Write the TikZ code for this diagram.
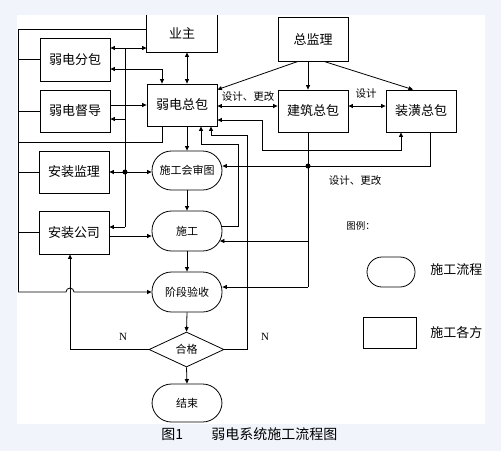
\documentclass[tikz,border=0pt]{standalone}
\usepackage{fontspec}
\setmainfont{Noto Sans CJK SC}
\newfontfamily\latinserif{Liberation Serif}
\usetikzlibrary{arrows.meta,shapes.geometric,calc}
\definecolor{bgblue}{RGB}{241,245,251}
\begin{document}
\begin{tikzpicture}[x=1pt,y=-1pt,
  line width=0.8pt,
  >={Triangle[length=4.5pt,width=4pt]},
  party/.style={draw,rectangle,minimum width=70pt,minimum height=42pt,inner sep=0pt,font=\fontsize{13}{15}\selectfont},
  flow/.style={draw,rectangle,rounded corners=19.5pt,minimum width=70pt,minimum height=40pt,inner sep=0pt,font=\fontsize{11}{13}\selectfont},
  lbl/.style={font=\fontsize{10.5}{12}\selectfont,inner sep=0pt},
  legtxt/.style={font=\fontsize{13}{15}\selectfont,inner sep=0pt,anchor=west},
  dotmark/.style={fill=black}]
\fill[bgblue] (0,0) rectangle (501,451);
\fill[white] (17,15) rectangle (485,424);
\useasboundingbox (0,0) rectangle (501,451);

% parties
\node[minimum width=70pt,minimum height=37pt,inner sep=0pt,font=\fontsize{13}{15}\selectfont] (yz) at (182,33.5) {业主};
\draw (yz.north west) -- (yz.south west) -- (yz.south east) -- (yz.north east);
\node[party,minimum height=43pt] (fb) at (75,59.5) {弱电分包};
\node[party] (dd) at (75,111) {弱电督导};
\node[party] (zb) at (182,105) {弱电总包};
\node[party,minimum height=44pt] (zjl) at (313,39) {总监理};
\node[party] (jz) at (313,111) {建筑总包};
\node[party] (zh) at (421,111) {装潢总包};
\node[party] (azjl) at (74,172) {安装监理};
\node[party,minimum height=43pt] (azgs) at (74,232.5) {安装公司};

% flow
\node[flow,minimum height=39pt] (shts) at (187,170.5) {施工会审图};
\node[flow] (sg) at (187,231) {施工};
\node[flow] (jdys) at (187,292) {阶段验收};
\node[draw,diamond,minimum width=75pt,minimum height=35pt,inner sep=0pt,font=\fontsize{11}{13}\selectfont] (hg) at (186.5,349.5) {合格};
\node[flow,minimum height=38pt] (js) at (187,403) {结束};

% legend
\node[lbl,font=\fontsize{9.5}{11}\selectfont,anchor=west] (lgt) at (346,226) {图例：};
\node[draw,rectangle,rounded corners=15pt,minimum width=48pt,minimum height=30pt] (lg1) at (391,272) {};
\node[draw,rectangle,minimum width=53pt,minimum height=31pt] (lg2) at (389.5,332.5) {};
\node[legtxt] (lt1) at (430,270) {施工流程};
\node[legtxt] (lt2) at (430,333) {施工各方};

% caption
\node[font=\fontsize{14}{16}\selectfont,anchor=west,inner sep=0pt] (cap1) at (161,434) {图1};
\node[font=\fontsize{14}{16}\selectfont,anchor=west,inner sep=0pt] (cap2) at (211,434) {弱电系统施工流程图};

% labels
\node[lbl] (l1) at (248,97) {设计、更改};
\node[lbl] (l2) at (366,94) {设计};
\node[lbl] (l3) at (355,181) {设计、更改};
\node[font=\latinserif\fontsize{11}{12}\selectfont,inner sep=0pt] (nl) at (123,337) {N};
\node[font=\latinserif\fontsize{11}{12}\selectfont,inner sep=0pt] (nr) at (265,337) {N};

% left bus
\coordinate (Ltop) at (18,29);
\coordinate (Lbot) at (18,292);
\coordinate (hopx) at (70,292);
\draw (Ltop -| yz.west) -- (Ltop) -- (Lbot);
\draw[->] (Lbot) -- ($(hopx)+(-4,0)$) arc[start angle=180,end angle=0,radius=4pt] -- (Lbot -| jdys.west);
\draw (fb.west) -- (fb.west -| Ltop);
\draw (dd.west) -- (dd.west -| Ltop);
\draw (azjl.west) -- (azjl.west -| Ltop);
\draw (azgs.west) -- (azgs.west -| Ltop);
\coordinate (B1) at (162,142);
\draw (B1 |- zb.south) -- (B1) -- (B1 -| Ltop);

% middle bus x=125
\coordinate (r48) at (125,48);
\coordinate (r119) at (125,119);
\coordinate (dot1) at (125,172);
\coordinate (r227) at (125,227);
\draw[<->] (r48 -| fb.east) -- (r48 -| yz.west);
\draw (r48) -- (r227);
\draw[->] (r119) -- (r119 -| dd.east);
\draw[->] (r227) -- (r227 -| azgs.east);
\draw[->] (dot1) -- (dot1 -| azjl.east);
\draw[->] (dot1) -- (dot1 -| shts.west);
\fill[dotmark] (dot1) circle[radius=2.5pt];

% 弱电分包 <-> 弱电总包
\coordinate (c69) at (162,69);
\draw[<->] (c69 -| fb.east) -- (c69) -- (c69 |- zb.north);
% 弱电督导 -> 弱电总包
\draw[->] (zb.west -| dd.east) -- (zb.west);
% 业主 <-> 弱电总包
\draw[<->] (shts.north |- yz.south) -- (shts.north |- zb.north);
% 安装公司 -> 施工
\coordinate (a236) at (110,236);
\draw[->] (a236 -| azgs.east) -- (a236 -| sg.west);

% flow arrows
\draw[->] (shts.north |- zb.south) -- (shts.north);
\draw[->] (shts.south) -- (sg.north);
\draw[->] (sg.south) -- (jdys.north);
\draw[->] (jdys.south) -- (hg.north);
\draw[->] (hg.south) -- (js.north);

% 总监理
\coordinate (zx) at (308,0);
\draw[->] (zjl.south -| zx) -- (jz.north -| zx);
\draw[->] ([xshift=-15pt]zjl.south) -- ([yshift=-6pt]zb.north east);
\draw[->] ([xshift=11pt]zjl.south) -- ([xshift=-8pt]zh.north);

% horizontals between contractors
\coordinate (h106) at (250,106);
\draw[<->] (h106 -| zb.east) -- (h106 -| jz.west);
\draw[<->] (h106 -| jz.east) -- (h106 -| zh.west);

% 弱电总包 <-> 装潢总包 via bottom
\coordinate (k0) at (262,120);
\coordinate (k1) at (262,150);
\coordinate (k2) at (401,150);
\draw[<->] (k0 -| zb.east) -- (k0) -- (k1) -- (k2) -- (k2 |- zh.south);

% 装潢总包 -> 施工会审图
\coordinate (k3) at (430,166);
\draw[->] (k3 |- zh.south) -- (k3) -- (k3 -| shts.east);
\coordinate (dot2) at (308,166);
\coordinate (v1) at (308,241);
\coordinate (v2) at (308,287);
\draw (jz.south -| zx) -- (v2);
\draw[->] (v1) -- ($(v1 -| sg.east)+(-2.5,0)$);
\draw[->] (v2) -- (v2 -| jdys.east);
\fill[dotmark] (dot2) circle[radius=2.5pt];

% 施工 -> 弱电总包 loop
\coordinate (w1) at (238,226);
\coordinate (w2) at (238,144);
\coordinate (w3) at (201,144);
\draw[->] ($(w1 -| sg.east)+(-1,0)$) -- (w1) -- (w2) -- (w3) -- (w3 |- zb.south);

% 合格 N right -> 弱电总包
\coordinate (n1) at (247,135);
\coordinate (n2) at (211,135);
\draw[->] (hg.east) -- (hg.east -| n1) -- (n1) -- (n2) -- (n2 |- zb.south);

% 合格 N left -> 安装公司
\draw[->] (hg.west) -- (hg.west -| hopx) -- (hopx |- azgs.south);
\end{tikzpicture}
\end{document}
